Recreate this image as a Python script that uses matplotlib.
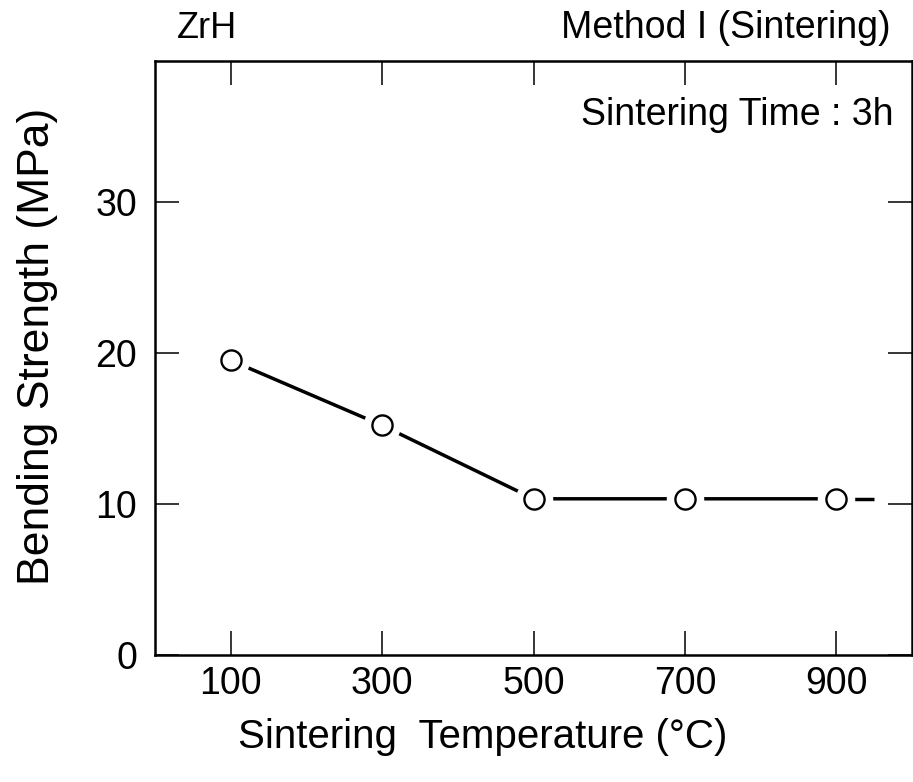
import matplotlib.pyplot as plt

# data
temperature = [100, 300, 500, 700, 900]
strength = [19.5, 15.2, 10.35, 10.35, 10.35]
tail_temp = [900, 950]
tail_strength = [10.35, 10.35]

xticks = [100, 300, 500, 700, 900]
yticks = [0, 10, 20, 30]

plt.rcParams['font.family'] = ['Liberation Sans', 'DejaVu Sans']

fig = plt.figure(figsize=(9.13, 7.82), dpi=100)
ax = fig.add_axes([0.170, 0.162, 0.829, 0.760])

# curve, with gaps cut around each marker
ax.plot(temperature, strength, color='black', lw=2.5, solid_capstyle='butt', zorder=2)
ax.plot(tail_temp, tail_strength, color='black', lw=2.5, solid_capstyle='butt', zorder=2)
ax.plot(temperature, strength, 'o', ms=27, mfc='white', mec='none', zorder=3)
ax.plot(temperature, strength, 'o', ms=14.5, mfc='white', mec='black', mew=1.7, zorder=4)

ax.set_xlim(0, 1000)
ax.set_ylim(0, 39.3)
ax.set_xticks(xticks)
ax.set_yticks(yticks)

for s in ax.spines.values():
    s.set_linewidth(1.8)

ax.tick_params(axis='both', direction='in', length=17, width=1.1,
               top=True, right=True, labelsize=27)
ax.tick_params(axis='x', pad=8)
ax.tick_params(axis='y', pad=13)

ax.set_xlabel('Sintering  Temperature (\u00b0C)', fontsize=29)
ax.xaxis.set_label_coords(0.433, -0.105)
ax.set_ylabel('Bending Strength (MPa)', fontsize=32)
ax.yaxis.set_label_coords(-0.128, 0.52)

fig.text(0.194, 0.964, 'ZrH', fontsize=26, va='center', ha='left')
fig.text(0.975, 0.964, 'Method I (Sintering)', fontsize=27, va='center', ha='right')
ax.text(0.975, 0.909, 'Sintering Time : 3h', transform=ax.transAxes,
        fontsize=27, va='center', ha='right')

fig.savefig('out.png', dpi=100)
